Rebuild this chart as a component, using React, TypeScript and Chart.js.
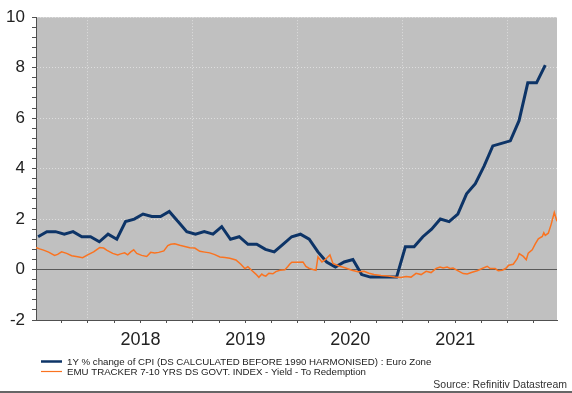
import React, { useEffect, useRef } from "react";
import { Chart, registerables } from "chart.js";

Chart.register(...registerables);

// ---- Data ----
const CPI_LABEL = "1Y % change of CPI (DS CALCULATED BEFORE 1990 HARMONISED) : Euro Zone";
const YIELD_LABEL = "EMU TRACKER 7-10 YRS DS GOVT. INDEX - Yield - To Redemption";
const SOURCE_TEXT = "Source: Refinitiv Datastream";

const X_MIN = 2017.505;
const X_MAX = 2022.47;
const Y_MIN = -2;
const Y_MAX = 10;
const Y_MAJOR_STEP = 2;
const Y_MINOR_STEP = 0.4;
const X_MINOR_STEP = 0.25;

const CPI_MONTHS = [
  "2017-07", "2017-08", "2017-09", "2017-10", "2017-11", "2017-12",
  "2018-01", "2018-02", "2018-03", "2018-04", "2018-05", "2018-06",
  "2018-07", "2018-08", "2018-09", "2018-10", "2018-11", "2018-12",
  "2019-01", "2019-02", "2019-03", "2019-04", "2019-05", "2019-06",
  "2019-07", "2019-08", "2019-09", "2019-10", "2019-11", "2019-12",
  "2020-01", "2020-02", "2020-03", "2020-04", "2020-05", "2020-06",
  "2020-07", "2020-08", "2020-09", "2020-10", "2020-11", "2020-12",
  "2021-01", "2021-02", "2021-03", "2021-04", "2021-05", "2021-06",
  "2021-07", "2021-08", "2021-09", "2021-10", "2021-11", "2021-12",
  "2022-01", "2022-02", "2022-03", "2022-04", "2022-05",
];
const CPI_VALUES = [
  1.3, 1.5, 1.5, 1.4, 1.5, 1.3,
  1.3, 1.1, 1.4, 1.2, 1.9, 2.0,
  2.2, 2.1, 2.1, 2.3, 1.9, 1.5,
  1.4, 1.5, 1.4, 1.7, 1.2, 1.3,
  1.0, 1.0, 0.8, 0.7, 1.0, 1.3,
  1.4, 1.2, 0.7, 0.3, 0.1, 0.3,
  0.4, -0.2, -0.3, -0.3, -0.3, -0.3,
  0.9, 0.9, 1.3, 1.6, 2.0, 1.9,
  2.2, 3.0, 3.4, 4.1, 4.9, 5.0,
  5.1, 5.9, 7.4, 7.4, 8.1,
];

const YIELD_DATES = [
  2017.505, 2017.539, 2017.577, 2017.625, 2017.682, 2017.711, 2017.749, 2017.797,
  2017.845, 2017.902, 2017.949, 2017.997, 2018.054, 2018.112, 2018.150, 2018.178,
  2018.236, 2018.284, 2018.312, 2018.350, 2018.379, 2018.408, 2018.436, 2018.465,
  2018.512, 2018.560, 2018.598, 2018.636, 2018.675, 2018.723, 2018.761, 2018.789,
  2018.827, 2018.875, 2018.923, 2018.970, 2019.018, 2019.066, 2019.114, 2019.161,
  2019.209, 2019.257, 2019.305, 2019.352, 2019.410, 2019.457, 2019.495, 2019.524,
  2019.562, 2019.600, 2019.629, 2019.657, 2019.676, 2019.695, 2019.724, 2019.762,
  2019.791, 2019.829, 2019.877, 2019.905, 2019.924, 2019.943, 2020.001, 2020.049,
  2020.077, 2020.106, 2020.144, 2020.173, 2020.192, 2020.230, 2020.258, 2020.306,
  2020.335, 2020.392, 2020.449, 2020.516, 2020.573, 2020.631, 2020.678, 2020.726,
  2020.793, 2020.860, 2020.926, 2020.984, 2021.032, 2021.079, 2021.127, 2021.175,
  2021.223, 2021.270, 2021.318, 2021.356, 2021.385, 2021.423, 2021.452, 2021.480,
  2021.528, 2021.576, 2021.614, 2021.661, 2021.709, 2021.757, 2021.805, 2021.833,
  2021.881, 2021.910, 2021.948, 2021.981, 2022.010, 2022.053, 2022.091, 2022.110,
  2022.149, 2022.177, 2022.196, 2022.234, 2022.263, 2022.292, 2022.330, 2022.344,
  2022.358, 2022.387, 2022.415, 2022.444, 2022.463, 2022.470,
];
const YIELD_VALUES = [
  0.87, 0.82, 0.77, 0.69, 0.56, 0.60, 0.70, 0.64,
  0.55, 0.51, 0.47, 0.58, 0.70, 0.87, 0.85, 0.77,
  0.64, 0.58, 0.62, 0.66, 0.58, 0.70, 0.78, 0.64,
  0.56, 0.52, 0.68, 0.66, 0.68, 0.74, 0.95, 1.00,
  1.02, 0.96, 0.91, 0.86, 0.85, 0.72, 0.69, 0.66,
  0.59, 0.50, 0.48, 0.45, 0.38, 0.21, 0.04, 0.11,
  -0.04, -0.18, -0.31, -0.18, -0.24, -0.26, -0.15, -0.17,
  -0.08, -0.03, -0.01, 0.12, 0.22, 0.29, 0.29, 0.30,
  0.12, 0.05, 0.00, -0.03, 0.50, 0.30, 0.38, 0.58,
  0.24, 0.14, 0.07, -0.03, -0.09, -0.07, -0.15, -0.20,
  -0.24, -0.26, -0.30, -0.32, -0.28, -0.30, -0.15, -0.20,
  -0.07, -0.12, 0.04, 0.10, 0.06, 0.10, 0.04, 0.06,
  -0.05, -0.16, -0.18, -0.11, -0.05, 0.04, 0.13, 0.04,
  0.04, -0.05, -0.03, 0.04, 0.17, 0.21, 0.43, 0.63,
  0.52, 0.39, 0.65, 0.78, 1.02, 1.22, 1.31, 1.46,
  1.35, 1.44, 1.80, 2.26, 2.00, 1.91,
];

// ---- Styles ----
const FONT = "'Liberation Sans', Arial, sans-serif";
const PLOT_BG = "#c0c0c0";
const GRID = "#dedede";
const AXIS = "#505050";
const ZERO = "#5a5a5a";
const TEXT = "#222222";
const CPI_COLOR = "#0d3467";
const YIELD_COLOR = "#fa7320";

const monthToYear = (s: string) => {
  const [y, m] = s.split("-").map(Number);
  return y + (m - 1) / 12 + 0.025;
};
const near = (a: number, b: number) => Math.abs(a - b) < 1e-6;
const isMajorY = (v: number) => near(v / Y_MAJOR_STEP, Math.round(v / Y_MAJOR_STEP));

const overlayPlugin = {
  id: "overlay",
  beforeDraw(chart: any) {
    const { ctx, chartArea } = chart;
    ctx.save();
    ctx.fillStyle = PLOT_BG;
    ctx.fillRect(chartArea.left, chartArea.top, chartArea.right - chartArea.left, chartArea.bottom - chartArea.top);
    ctx.restore();
  },
  afterDraw(chart: any) {
    const { ctx } = chart;
    ctx.save();
    chart.data.datasets.forEach((ds: any, i: number) => {
      const y = 361.5 + i * 10;
      ctx.strokeStyle = ds.borderColor;
      ctx.lineWidth = i === 0 ? 2.5 : 1.2;
      ctx.beginPath();
      ctx.moveTo(41, y);
      ctx.lineTo(62, y);
      ctx.stroke();
      ctx.fillStyle = TEXT;
      ctx.font = `9.7px ${FONT}`;
      ctx.textAlign = "left";
      ctx.textBaseline = "middle";
      ctx.fillText(ds.label, 67, y + 0.5);
    });
    ctx.fillStyle = "#333333";
    ctx.font = `10.5px ${FONT}`;
    ctx.textAlign = "right";
    ctx.textBaseline = "alphabetic";
    ctx.fillText(SOURCE_TEXT, 567, 387.5);
    ctx.fillStyle = "#666666";
    ctx.fillRect(0, 391, chart.width, 2);
    ctx.restore();
  },
};

export default function App() {
  const ref = useRef<HTMLCanvasElement>(null);
  useEffect(() => {
    document.body.style.margin = "0";
    const canvas = ref.current!;
    const chart = new Chart(canvas, {
      type: "line",
      data: {
        datasets: [
          {
            label: CPI_LABEL,
            data: CPI_MONTHS.map((m, i) => ({ x: monthToYear(m), y: CPI_VALUES[i] })),
            borderColor: CPI_COLOR,
            borderWidth: 3,
            pointRadius: 0,
            tension: 0,
            order: 1,
          },
          {
            label: YIELD_LABEL,
            data: YIELD_DATES.map((d, i) => ({ x: d, y: YIELD_VALUES[i] })),
            borderColor: YIELD_COLOR,
            borderWidth: 1.5,
            pointRadius: 0,
            tension: 0,
            order: 0,
          },
        ],
      },
      options: {
        animation: false,
        responsive: false,
        devicePixelRatio: 1,
        layout: { padding: { top: 15, right: 15, bottom: 38, left: 0 } },
        plugins: { legend: { display: false }, tooltip: { enabled: false } },
        events: [],
        scales: {
          x: {
            type: "linear",
            min: X_MIN,
            max: X_MAX,
            bounds: "data",
            afterFit: (s: any) => { s.height = 35; },
            afterBuildTicks: (s: any) => {
              const t: any[] = [];
              for (let v = Math.ceil(X_MIN / X_MINOR_STEP) * X_MINOR_STEP; v <= X_MAX; v += X_MINOR_STEP) {
                t.push({ value: Math.round(v * 100) / 100 });
              }
              s.ticks = t;
            },
            grid: {
              color: (c: any) => (c.tick && Number.isInteger(c.tick.value) ? GRID : "rgba(0,0,0,0)"),
              lineWidth: 1,
              tickColor: AXIS,
              tickLength: 3,
              tickWidth: 1,
            },
            border: {
              display: true,
              color: AXIS,
              width: 1,
              dash: (c: any) => (c.tick ? [1, 2] : []),
            },
            ticks: {
              autoSkip: false,
              maxRotation: 0,
              minRotation: 0,
              labelOffset: 52.5,
              padding: 6,
              color: TEXT,
              font: { family: FONT, size: 18 },
              callback: (v: any) => (Number.isInteger(v) && v + 0.5 < X_MAX ? String(v) : ""),
            },
          },
          y: {
            type: "linear",
            min: Y_MIN,
            max: Y_MAX,
            bounds: "data",
            afterFit: (s: any) => { s.width = 36; },
            afterBuildTicks: (s: any) => {
              const t: any[] = [];
              const n = Math.round((Y_MAX - Y_MIN) / Y_MINOR_STEP);
              for (let i = 0; i <= n; i++) t.push({ value: Math.round((Y_MIN + i * Y_MINOR_STEP) * 10) / 10 });
              s.ticks = t;
            },
            grid: {
              color: (c: any) => {
                if (!c.tick) return GRID;
                const v = c.tick.value;
                if (near(v, 0)) return ZERO;
                if (near(v, Y_MIN)) return "rgba(0,0,0,0)";
                return isMajorY(v) ? GRID : "rgba(0,0,0,0)";
              },
              lineWidth: 1,
              tickColor: AXIS,
              tickLength: 4,
              tickWidth: 1,
            },
            border: {
              display: true,
              color: AXIS,
              width: 1,
              dash: (c: any) => (c.tick && !near(c.tick.value, 0) ? [1, 2] : []),
            },
            ticks: {
              autoSkip: false,
              padding: 7,
              color: TEXT,
              font: { family: FONT, size: 17 },
              callback: (v: any) => (isMajorY(Number(v)) ? String(Math.round(Number(v))) : ""),
            },
          },
        },
      },
      plugins: [overlayPlugin],
    } as any);
    return () => chart.destroy();
  }, []);
  return (
    <div style={{ position: "relative", width: 572, height: 393, background: "#ffffff" }}>
      <canvas ref={ref} width={572} height={393} style={{ display: "block" }} />
    </div>
  );
}
